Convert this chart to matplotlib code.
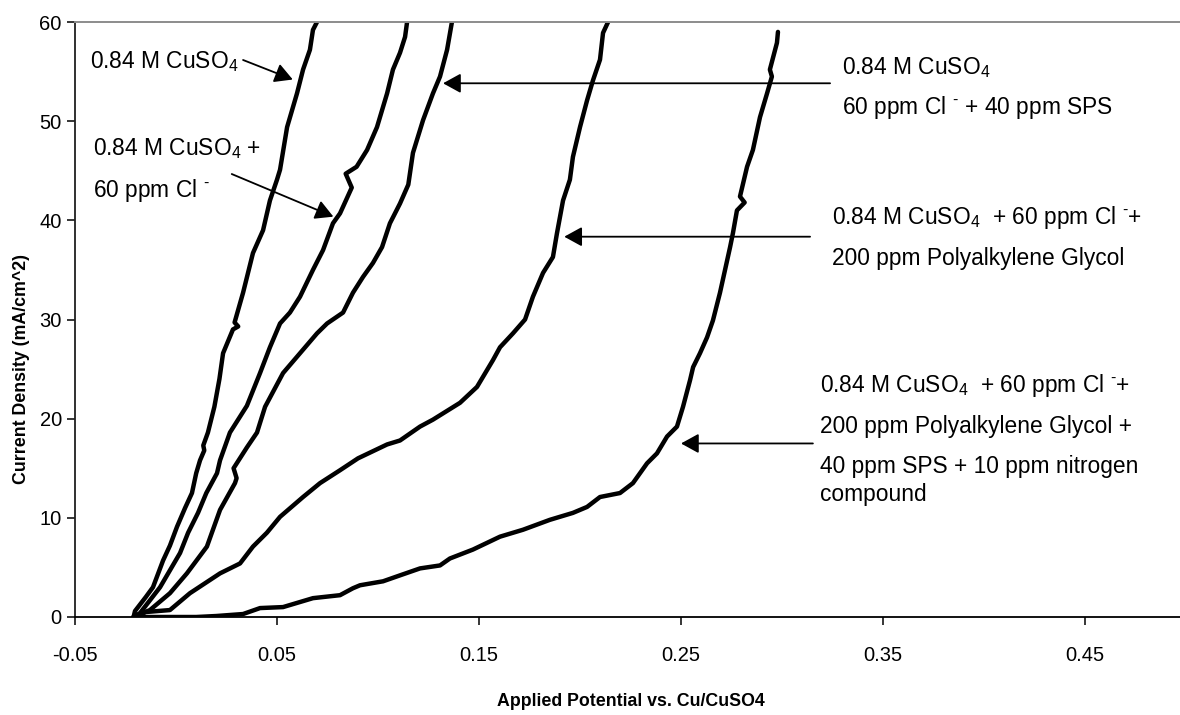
import matplotlib
matplotlib.use("Agg")
import matplotlib.pyplot as plt

plt.rcParams['font.family'] = ['Liberation Sans', 'DejaVu Sans']
plt.rcParams['mathtext.fontset'] = 'custom'
plt.rcParams['mathtext.rm'] = 'Liberation Sans'
plt.rcParams['mathtext.default'] = 'regular'

# ---- data ----
cuso4_x = [-0.0210, -0.0203, -0.0150, -0.0114, -0.0064, -0.0030, 0.0005, 0.0045, 0.0079,
           0.0100, 0.0119, 0.0140, 0.0135, 0.0158, 0.0190, 0.0215, 0.0233, 0.0282, 0.0308,
           0.0290, 0.0332, 0.0381, 0.0431, 0.0465, 0.0500, 0.0515, 0.0550, 0.0599, 0.0629,
           0.0663, 0.0678, 0.0698]
cuso4_y = [0.0, 0.6, 2.0, 3.0, 5.7, 7.2, 9.1, 11.0, 12.5,
           14.5, 15.8, 16.8, 17.3, 18.6, 21.2, 24.0, 26.6, 29.0, 29.3,
           29.7, 32.7, 36.7, 39.0, 42.0, 44.1, 45.1, 49.4, 52.8, 55.2,
           57.2, 59.2, 60.0]

cl_x = [-0.0210, -0.0178, -0.0079, 0.0020, 0.0060, 0.0109, 0.0150, 0.0203, 0.0218, 0.0267,
        0.0351, 0.0416, 0.0465, 0.0515, 0.0564, 0.0614, 0.0678, 0.0728, 0.0777, 0.0812,
        0.0870, 0.0840, 0.0894, 0.0946, 0.0995, 0.1045, 0.1074, 0.1109, 0.1134, 0.1144]
cl_y = [0.0, 0.4, 3.0, 6.45, 8.5, 10.5, 12.5, 14.5, 15.8, 18.6,
        21.3, 24.6, 27.2, 29.6, 30.7, 32.3, 35.0, 37.0, 39.7, 40.7,
        43.3, 44.7, 45.4, 47.1, 49.4, 52.8, 55.2, 56.9, 58.5, 60.0]

sps_x = [-0.0210, -0.0129, -0.0030, 0.0054, 0.0153, 0.0218, 0.0292, 0.0300, 0.0285, 0.0351,
         0.0401, 0.0441, 0.0530, 0.0614, 0.0698, 0.0748, 0.0827, 0.0876, 0.0926, 0.0975,
         0.1020, 0.1059, 0.1109, 0.1150, 0.1173, 0.1223, 0.1272, 0.1307, 0.1342, 0.1366]
sps_y = [0.0, 0.7, 2.4, 4.4, 7.1, 10.8, 13.5, 14.0, 15.0, 17.1,
         18.6, 21.2, 24.6, 26.6, 28.6, 29.6, 30.7, 32.7, 34.3, 35.7,
         37.3, 39.7, 41.7, 43.6, 46.8, 50.1, 52.8, 54.5, 57.2, 60.0]

pag_x = [-0.0210, -0.0150, -0.0030, 0.0069, 0.0218, 0.0317, 0.0381, 0.0450, 0.0515, 0.0629,
         0.0713, 0.0812, 0.0901, 0.1045, 0.1109, 0.1208, 0.1272, 0.1406, 0.1490, 0.1569,
         0.1604, 0.1668, 0.1728, 0.1767, 0.1817, 0.1866, 0.1886, 0.1916, 0.1950, 0.1965,
         0.2000, 0.2035, 0.2064, 0.2099, 0.2114, 0.2139]
pag_y = [0.0, 0.5, 0.7, 2.4, 4.4, 5.4, 7.1, 8.5, 10.1, 12.1,
         13.5, 14.8, 16.0, 17.4, 17.8, 19.2, 19.9, 21.6, 23.2, 25.9,
         27.2, 28.6, 30.0, 32.3, 34.7, 36.3, 38.7, 42.0, 44.1, 46.4,
         49.4, 52.1, 54.1, 56.2, 58.9, 60.0]

full_x = [-0.0210, 0.0100, 0.0200, 0.0332, 0.0416, 0.0530, 0.0678, 0.0812, 0.0876, 0.0911,
          0.1025, 0.1109, 0.1208, 0.1307, 0.1356, 0.1470, 0.1604, 0.1718, 0.1851, 0.1965,
          0.2035, 0.2099, 0.2198, 0.2262, 0.2332, 0.2381, 0.2431, 0.2480, 0.2510, 0.2545,
          0.2560, 0.2594, 0.2629, 0.2658, 0.2693, 0.2743, 0.2757, 0.2777, 0.2815, 0.2792,
          0.2827, 0.2856, 0.2891, 0.2926, 0.2950, 0.2940, 0.2975, 0.2980]
full_y = [0.0, 0.0, 0.1, 0.3, 0.9, 1.0, 1.9, 2.2, 2.9, 3.2,
          3.6, 4.2, 4.9, 5.2, 5.9, 6.8, 8.1, 8.8, 9.8, 10.5,
          11.1, 12.1, 12.5, 13.5, 15.5, 16.5, 18.2, 19.2, 21.2, 23.9,
          25.2, 26.6, 28.2, 29.9, 32.7, 37.3, 38.7, 41.0, 41.8, 42.4,
          45.4, 47.1, 50.4, 52.8, 54.5, 55.2, 57.9, 59.0]

x_ticks = [-0.05, 0.05, 0.15, 0.25, 0.35, 0.45]
x_tick_labels = ['-0.05', '0.05', '0.15', '0.25', '0.35', '0.45']
y_ticks = [0, 10, 20, 30, 40, 50, 60]

series = [(cuso4_x, cuso4_y), (cl_x, cl_y), (sps_x, sps_y), (pag_x, pag_y), (full_x, full_y)]

# ---- figure ----
W, H = 1180, 715
fig = plt.figure(figsize=(W / 100, H / 100), dpi=100)
ax = fig.add_axes([75 / W, 98 / H, 1105 / W, 595 / H])

for xs, ys in series:
    ax.plot(xs, ys, color='black', lw=3.2, solid_joinstyle='round', solid_capstyle='round')

ax.set_xlim(-0.05, -0.05 + 1105 / 2020)
ax.set_ylim(0, 60)
ax.set_xticks(x_ticks)
ax.set_xticklabels(x_tick_labels)
ax.set_yticks(y_ticks)

ax.tick_params(axis='both', direction='out', length=6, width=1.1, colors='black', labelsize=14.5)
ax.tick_params(axis='x', pad=15)
ax.tick_params(axis='y', pad=3.5)

ax.spines['right'].set_visible(False)
ax.spines['top'].set_color('#8c8c8c')
ax.spines['top'].set_linewidth(1.4)
ax.spines['left'].set_color('#202020')
ax.spines['left'].set_linewidth(1.3)
ax.spines['bottom'].set_color('black')
ax.spines['bottom'].set_linewidth(1.3)

label_font = dict(fontweight='bold', fontsize=12.8)
ax.set_xlabel('Applied Potential vs. Cu/CuSO4', **label_font)
ax.set_ylabel('Current Density (mA/cm^2)', **label_font)
ax.xaxis.set_label_coords((631 - 75) / 1105, (617 - 702) / 595)
ax.xaxis.label.set_va('center')
ax.yaxis.set_label_coords((22 - 75) / 1105, (617 - 369) / 595)
ax.yaxis.label.set_va('center')

# ---- annotations ----
fs = 16.4
arrow = dict(arrowstyle='-|>,head_length=0.4,head_width=0.22', color='black', lw=1.3,
             mutation_scale=27, shrinkA=0, shrinkB=0)
sup = '$^{\u2010}$'

ax.text(-0.0426, 55.33, '0.84 M CuSO$_4$', fontsize=fs, va='baseline', ha='left')
ax.annotate('', xy=(0.0578, 54.2), xytext=(0.0332, 56.17), arrowprops=arrow)

ax.text(-0.0411, 46.6, '0.84 M CuSO$_4$ +', fontsize=fs, va='baseline', ha='left')
ax.text(-0.0411, 42.35, '60 ppm Cl ' + sup, fontsize=fs, va='baseline', ha='left')
ax.annotate('', xy=(0.0779, 40.37), xytext=(0.0276, 44.67), arrowprops=arrow)

ax.text(0.3295, 54.75, '0.84 M CuSO$_4$', fontsize=fs, va='baseline', ha='left')
ax.text(0.3295, 50.72, '60 ppm Cl ' + sup + ' + 40 ppm SPS', fontsize=fs, va='baseline', ha='left')
ax.annotate('', xy=(0.1322, 53.82), xytext=(0.3238, 53.82), arrowprops=arrow)

ax.text(0.3246, 39.63, '0.84 M CuSO$_4$  + 60 ppm Cl ' + sup + '+', fontsize=fs, va='baseline', ha='left')
ax.text(0.3246, 35.5, '200 ppm Polyalkylene Glycol', fontsize=fs, va='baseline', ha='left')
ax.annotate('', xy=(0.1922, 38.35), xytext=(0.3139, 38.35), arrowprops=arrow)

ax.text(0.3188, 22.72, '0.84 M CuSO$_4$  + 60 ppm Cl ' + sup + '+', fontsize=fs, va='baseline', ha='left')
ax.text(0.3188, 18.58, '200 ppm Polyalkylene Glycol +', fontsize=fs, va='baseline', ha='left')
ax.text(0.3188, 14.55, '40 ppm SPS + 10 ppm nitrogen', fontsize=fs, va='baseline', ha='left')
ax.text(0.3188, 11.65, 'compound', fontsize=fs, va='baseline', ha='left')
ax.annotate('', xy=(0.2500, 17.5), xytext=(0.3153, 17.5), arrowprops=arrow)

fig.savefig('out.png', dpi=100)
